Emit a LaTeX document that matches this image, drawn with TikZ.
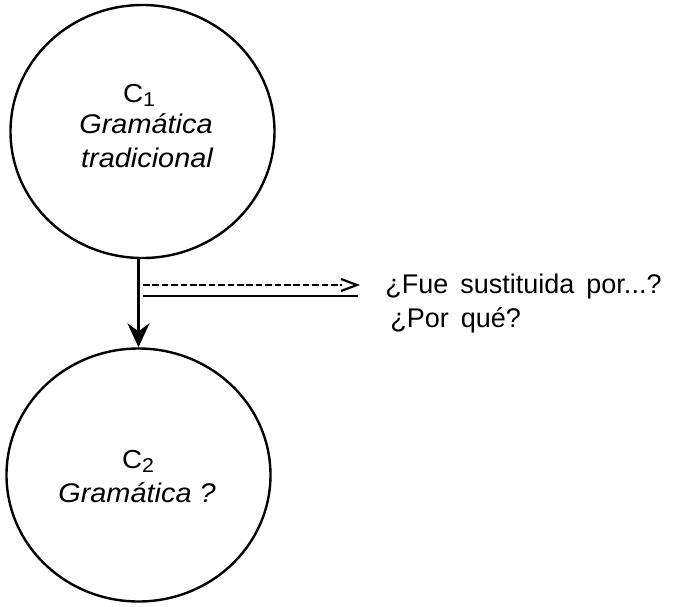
\documentclass[tikz,border=0pt]{standalone}
\usepackage{fontspec}
\setmainfont{Liberation Sans}
\newfontfamily\circfont[FakeStretch=1.07]{Liberation Sans}
\newfontfamily\qfont[WordSpace=1.6]{Liberation Sans}
\usetikzlibrary{shapes.geometric,arrows.meta}
\tikzset{
  conc/.style={ellipse,draw,line width=1.2pt,minimum width=132pt,minimum height=126.5pt,inner sep=0pt},
  lbl/.style={inner sep=0pt,anchor=base,font=\circfont\fontsize{13.5}{16}\selectfont\itshape},
  cname/.style={inner sep=0pt,anchor=base,font=\circfont\fontsize{13}{15}\selectfont},
  qtext/.style={inner sep=0pt,anchor=base west,font=\qfont\fontsize{13.5}{16}\selectfont},
  flow/.style={line width=1.4pt,-{Stealth[length=12pt,width=11pt,inset=4pt]}},
  dashline/.style={line width=1.3pt,dash pattern=on 3.3pt off 1.4pt},
  uline/.style={line width=1.2pt}
}
\begin{document}
\begin{tikzpicture}[x=0.5pt,y=-0.5pt]
\useasboundingbox (0,0) rectangle (677,607);
% concepts
\node[conc] (c1) at (142.5,131.5) {};
\node[conc] (c2) at (138.5,475) {};
\node[cname] (c1n) at (139,102) {C\raisebox{-0.35ex}{\fontsize{10}{12}\selectfont 1}};
\node[lbl] (c1a) at (146,133) {Gramática};
\node[lbl] (c1b) at (147,167) {tradicional};
\node[cname] (c2n) at (138,468) {C\raisebox{-0.35ex}{\fontsize{10}{12}\selectfont 2}};
\node[lbl] (c2a) at (137,502) {Gramática ?};
% main arrow
\draw[flow] (c2.north |- c1.south) -- (c2.north);
% dashed pointer
\coordinate (d0) at (143,285);
\coordinate (d1) at (342,285);
\coordinate (tipA) at (341,279);
\coordinate (tipB) at (357,285);
\coordinate (tipC) at (341,291);
\coordinate (u0) at (143,296);
\coordinate (u1) at (358,296);
\draw[dashline] (d0) -- (d1);
\draw[line width=1.1pt] (tipA) -- (tipB) -- (tipC);
\draw[uline] (u0) -- (u1);
% question
\node[qtext] (q1) at (385,293) {¿Fue sustituida por...?};
\node[qtext] (q2) at (390,327) {¿Por qué?};
\end{tikzpicture}
\end{document}
